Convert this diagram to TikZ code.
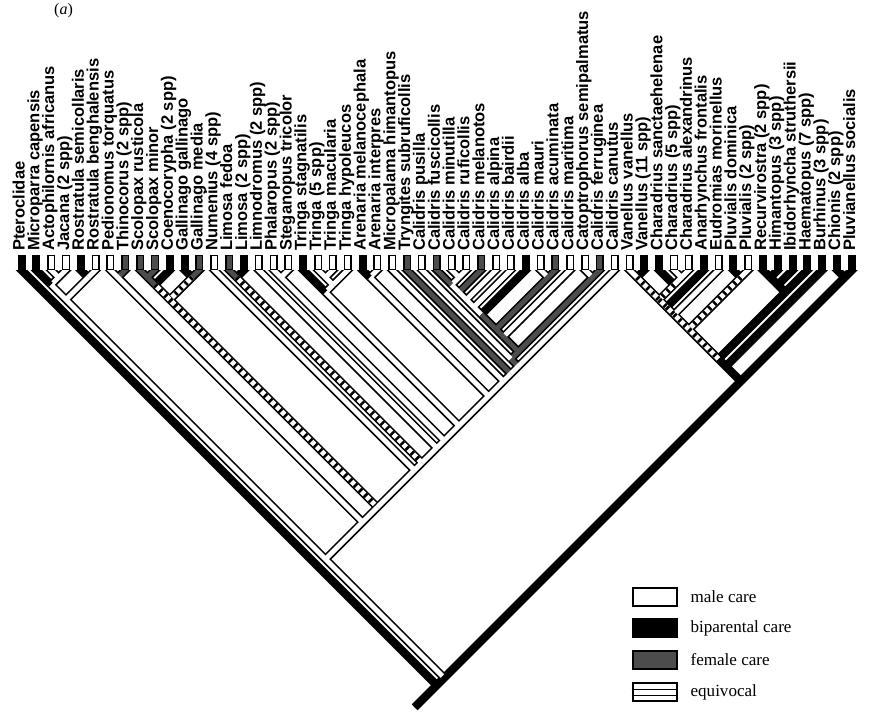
\documentclass[tikz,border=0pt]{standalone}
\usepackage{fontspec}
\setmainfont{Liberation Serif}
\newfontfamily\labfont{Liberation Sans}
\usepackage{tikz}
\usetikzlibrary{positioning}

% node of the clade spanning tips #1..#2 (45 degree cladogram)
\newcommand\clade[2]{\coordinate (n#1-#2) at ({21.5+14.83*((#1+#2)/2-1)},{270+7.415*(#2-#1)});}

% branches: child/parent/fill/end, drawn in this order
\def\branchlist{t3/n3-4/wb/tipend, t4/n3-4/wb/tipend,
t5/n5-6/bb/tipend, t6/n5-6/wb/tipend,
t8/n7-8/sb/tipend, t7/n7-8/wb/tipend,
t10/n9-10/sb/tipend, t9/n9-10/sb/tipend,
t12/n12-13/bb/tipend, t13/n12-13/sb/tipend,
t16/n15-16/bb/tipend, t15/n15-16/sb/tipend,
t19/n18-19/wb/tipend, t18/n18-19/wb/tipend,
t22/n21-22/wb/tipend, t21/n21-22/wb/tipend,
t25/n24-25/wb/tipend, t24/n24-25/bb/tipend,
t30/n30-31/wb/tipend, t31/n30-31/wb/tipend,
t36/n36-37/wb/tipend, t37/n36-37/sb/tipend,
t39/n39-40/wb/tipend, t40/n39-40/sb/tipend,
t43/n42-43/bb/tipend, t42/n42-43/wb/tipend,
t45/n45-46/wb/tipend, t46/n45-46/wb/tipend,
t49/n49-50/bb/tipend, t50/n49-50/wb/tipend,
t51/n51-52/bb/tipend, t52/n51-52/bb/tipend,
t56/n56-57/bb/tipend, t57/n56-57/bb/tipend,
n3-4/n2-4/wb/nodeend, t2/n2-4/bb/tipend,
t11/n9-11/bb/tipend, n9-10/n9-11/sb/nodeend,
n21-22/n21-23/wb/nodeend, t23/n21-23/wb/tipend,
n30-31/n29-31/wb/nodeend, t29/n29-31/sb/tipend,
t44/n44-46/bb/tipend, n45-46/n44-46/wb/nodeend,
n51-52/n51-53/bb/nodeend, t53/n51-53/bb/tipend,
n21-23/n20-23/wb/nodeend, t20/n20-23/bb/tipend,
t32/n29-32/sb/tipend, n29-31/n29-32/wb/nodeend,
n51-53/n51-54/bb/nodeend, t54/n51-54/bb/tipend,
n5-6/n2-6/wb/nodeend, n2-4/n2-6/wb/nodeend,
n12-13/n9-13/hb/nodeend, n9-11/n9-13/hb/nodeend,
t33/n29-33/wb/tipend, n29-32/n29-33/wb/nodeend,
n44-46/n42-46/hb/nodeend, n42-43/n42-46/hb/nodeend,
t34/n29-34/wb/tipend, n29-33/n29-34/wb/nodeend,
t47/n42-47/bb/tipend, n42-46/n42-47/hb/nodeend,
t35/n29-35/bb/tipend, n29-34/n29-35/wb/nodeend,
t48/n42-48/wb/tipend, n42-47/n42-48/hb/nodeend,
n36-37/n29-37/sb/nodeend, n29-35/n29-37/sb/nodeend,
n49-50/n42-50/hb/nodeend, n42-48/n42-50/hb/nodeend,
t38/n29-38/wb/tipend, n29-37/n29-38/sb/nodeend,
n29-38/n29-40/sb/nodeend, n39-40/n29-40/sb/nodeend,
n29-40/n28-40/sb/nodeend, t28/n28-40/wb/tipend,
n51-54/n42-54/bb/nodeend, n42-50/n42-54/hb/nodeend,
n28-40/n28-41/sb/nodeend, t41/n28-41/wb/tipend,
t55/n42-55/bb/tipend, n42-54/n42-55/bb/nodeend,
t27/n27-41/sb/tipend, n28-41/n27-41/wb/nodeend,
t26/n26-41/wb/tipend, n27-41/n26-41/wb/nodeend,
n42-55/n42-57/bb/nodeend, n56-57/n42-57/bb/nodeend,
n24-25/n24-41/wb/nodeend, n26-41/n24-41/wb/nodeend,
n20-23/n20-41/wb/nodeend, n24-41/n20-41/wb/nodeend,
n18-19/n18-41/wb/nodeend, n20-41/n18-41/wb/nodeend,
t17/n17-41/wb/tipend, n18-41/n17-41/wb/nodeend,
n15-16/n15-41/hb/nodeend, n17-41/n15-41/wb/nodeend,
t14/n14-41/wb/tipend, n15-41/n14-41/wb/nodeend,
n9-13/n9-41/hb/nodeend, n14-41/n9-41/wb/nodeend,
n7-8/n7-41/wb/nodeend, n9-41/n7-41/wb/nodeend,
n7-41/n2-41/wb/nodeend, n2-6/n2-41/wb/nodeend,
n2-41/n2-57/wb/nodeend, n42-57/n2-57/bb/nodeend,
t1/n1-57/bb/tipend, n2-57/n1-57/bb/nodeend,
n1-57/stem/bb/nodeend}

\tikzset{
  bandout/.style={line width=6.2pt, black},
  wb/.style={line width=3.7pt, white},
  bb/.style={line width=3.7pt, black},
  sb/.style={line width=3.7pt, black!70},
  hb/.style={line width=3.7pt, white,
    postaction={draw=black, line width=3.7pt, dash pattern=on 1.9pt off 3.4pt}},
  tipend/.style={shorten <=-5pt},
  nodeend/.style={},
  tipbox/.style={draw, line width=1.1pt, minimum width=4.9pt, minimum height=10.4pt, inner sep=0pt},
  boxW/.style={fill=white},
  boxB/.style={fill=black},
  boxS/.style={fill=black!70},
  tiplab/.style={font=\labfont\bfseries\fontsize{12.4}{12.4}\selectfont, rotate=90, anchor=mid west, inner sep=0pt},
  legbox/.style={draw, line width=1.5pt, minimum width=33.5pt, minimum height=13.5pt, inner sep=0pt},
  legtext/.style={font=\fontsize{12.8}{14}\selectfont, inner sep=0pt}
}

\begin{document}
\begin{tikzpicture}[x=0.75pt, y=-0.75pt]
  \useasboundingbox (0,0) rectangle (871,724);
  \node[font=\fontsize{12}{13}\selectfont, inner sep=0pt] (panel) at (63.5,11) {(\textit{a})};

  % --- tips and clade nodes ---
  \foreach \i in {1,...,57} \coordinate (t\i) at ({21.5+14.83*(\i-1)},270);
  \foreach \a/\b in {3/4,5/6,7/8,9/10,12/13,15/16,18/19,21/22,24/25,30/31,36/37,39/40,
    42/43,45/46,49/50,51/52,56/57,2/4,9/11,21/23,29/31,44/46,51/53,20/23,29/32,51/54,
    2/6,9/13,29/33,42/46,29/34,42/47,29/35,42/48,29/37,42/50,29/38,29/40,28/40,42/54,
    28/41,42/55,27/41,26/41,42/57,24/41,20/41,18/41,17/41,15/41,14/41,9/41,7/41,2/41,
    2/57,1/57} {\clade{\a}{\b}}
  \coordinate (stem) at (414.7,707.3);

  % --- branches: outlines first, then fills ---
  \begin{scope}
    \clip (0,270) rectangle (871,724);
    \foreach \c/\p/\s/\k in \branchlist \draw[bandout,\k] (\c) -- (\p);
    \foreach \c/\p/\s/\k in \branchlist \draw[\s,\k] (\c) -- (\p);
  \end{scope}

  % --- tip boxes and names ---
  \foreach \i/\bx/\nm in {1/boxB/Pteroclidae, 2/boxB/Microparra capensis,
    3/boxW/Actophilornis africanus, 4/boxW/Jacana (2 spp), 5/boxB/Rostratula semicollaris,
    6/boxW/Rostratula benghalensis, 7/boxW/Pedionomus torquatus, 8/boxS/Thinocorus (2 spp),
    9/boxS/Scolopax rusticola, 10/boxS/Scolopax minor, 11/boxB/Coenocorypha (2 spp),
    12/boxB/Gallinago gallinago, 13/boxS/Gallinago media, 14/boxW/Numenius (4 spp),
    15/boxS/Limosa fedoa, 16/boxB/Limosa (2 spp), 17/boxW/Limnodromus (2 spp),
    18/boxW/Phalaropus (2 spp), 19/boxW/Steganopus tricolor, 20/boxB/Tringa stagnatilis,
    21/boxW/Tringa (5 spp), 22/boxW/Tringa macularia, 23/boxW/Tringa hypoleucos,
    24/boxB/Arenaria melanocephala, 25/boxW/Arenaria interpres,
    26/boxW/Micropalama himantopus, 27/boxS/Tryngites subruficollis,
    28/boxW/Calidris pusilla, 29/boxS/Calidris fuscicollis, 30/boxW/Calidris minutilla,
    31/boxW/Calidris ruficollis, 32/boxS/Calidris melanotos, 33/boxW/Calidris alpina,
    34/boxW/Calidris bairdii, 35/boxB/Calidris alba, 36/boxW/Calidris mauri,
    37/boxS/Calidris acuminata, 38/boxW/Calidris maritima,
    39/boxW/Catoptrophorus semipalmatus, 40/boxS/Calidris ferruginea,
    41/boxW/Calidris canutus, 42/boxW/Vanellus vanellus, 43/boxB/Vanellus (11 spp),
    44/boxB/Charadrius sanctaehelenae, 45/boxW/Charadrius (5 spp),
    46/boxW/Charadrius alexandrinus, 47/boxB/Anarhynchus frontalis,
    48/boxW/Eudromias morinellus, 49/boxB/Pluvialis dominica, 50/boxW/Pluvialis (2 spp),
    51/boxB/Recurvirostra (2 spp), 52/boxB/Himantopus (3 spp),
    53/boxB/Ibidorhyncha struthersii, 54/boxB/Haematopus (7 spp),
    55/boxB/Burhinus (3 spp), 56/boxB/Chionis (2 spp), 57/boxB/Pluvianellus socialis} {
    \node[tipbox,\bx] (b\i) at ({21.5+14.83*(\i-1)},262.5) {};
    \node[tiplab] (l\i) at ({21.5+14.83*(\i-1)},251) {\nm};
  }

  % --- legend ---
  \node[legbox, fill=white] (keym) at (655,596.7) {};
  \node[legbox, fill=black] (keyb) at (655,628.3) {};
  \node[legbox, fill=black!70] (keyf) at (655,659.5) {};
  \node[legbox, fill=white] (keye) at (655,692.2) {};
  \draw[line width=0.9pt] ([yshift=2.2pt]keye.west) -- ([yshift=2.2pt]keye.east);
  \draw[line width=0.9pt] ([yshift=-2.2pt]keye.west) -- ([yshift=-2.2pt]keye.east);
  \node[legtext, right=9pt of keym] (txtm) {male care};
  \node[legtext, right=9pt of keyb] (txtb) {biparental care};
  \node[legtext, right=9pt of keyf] (txtf) {female care};
  \node[legtext, right=9pt of keye] (txte) {equivocal};
\end{tikzpicture}
\end{document}
